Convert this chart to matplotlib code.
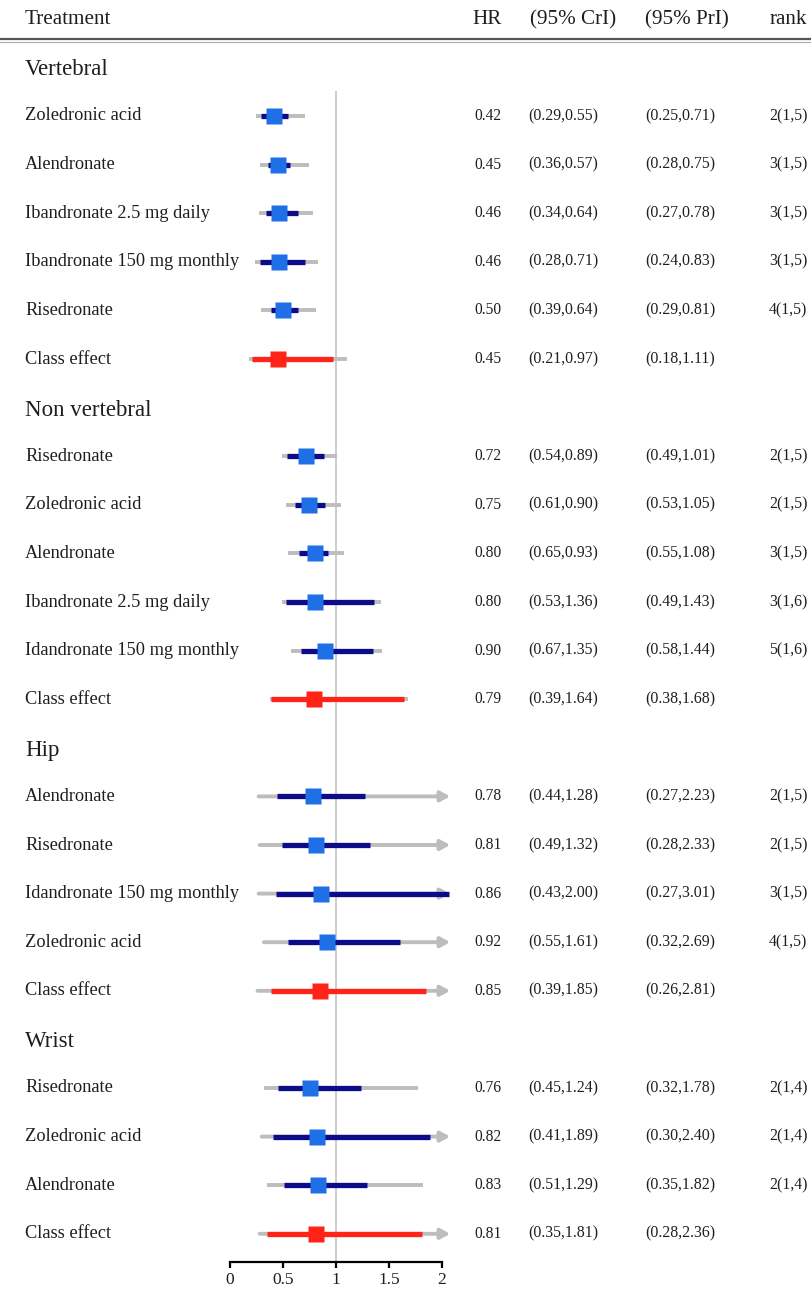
import matplotlib
matplotlib.use("Agg")
import matplotlib.pyplot as plt
from matplotlib.transforms import blended_transform_factory
from matplotlib.lines import Line2D

plt.rcParams['font.family'] = ['Liberation Serif', 'DejaVu Serif']

# ---------------- data ----------------
groups = ["Vertebral", "Non vertebral", "Hip", "Wrist"]

vert_names = ["Zoledronic acid", "Alendronate", "Ibandronate 2.5 mg daily",
              "Ibandronate 150 mg monthly", "Risedronate", "Class effect"]
vert_hr = [0.42, 0.45, 0.46, 0.46, 0.50, 0.45]
vert_crl = [0.29, 0.36, 0.34, 0.28, 0.39, 0.21]
vert_cru = [0.55, 0.57, 0.64, 0.71, 0.64, 0.97]
vert_prl = [0.25, 0.28, 0.27, 0.24, 0.29, 0.18]
vert_pru = [0.71, 0.75, 0.78, 0.83, 0.81, 1.11]
vert_rank = ["2(1,5)", "3(1,5)", "3(1,5)", "3(1,5)", "4(1,5)", ""]

nonv_names = ["Risedronate", "Zoledronic acid", "Alendronate",
              "Ibandronate 2.5 mg daily", "Idandronate 150 mg monthly", "Class effect"]
nonv_hr = [0.72, 0.75, 0.80, 0.80, 0.90, 0.79]
nonv_crl = [0.54, 0.61, 0.65, 0.53, 0.67, 0.39]
nonv_cru = [0.89, 0.90, 0.93, 1.36, 1.35, 1.64]
nonv_prl = [0.49, 0.53, 0.55, 0.49, 0.58, 0.38]
nonv_pru = [1.01, 1.05, 1.08, 1.43, 1.44, 1.68]
nonv_rank = ["2(1,5)", "2(1,5)", "3(1,5)", "3(1,6)", "5(1,6)", ""]

hip_names = ["Alendronate", "Risedronate", "Idandronate 150 mg monthly",
             "Zoledronic acid", "Class effect"]
hip_hr = [0.78, 0.81, 0.86, 0.92, 0.85]
hip_crl = [0.44, 0.49, 0.43, 0.55, 0.39]
hip_cru = [1.28, 1.32, 2.00, 1.61, 1.85]
hip_prl = [0.27, 0.28, 0.27, 0.32, 0.26]
hip_pru = [2.23, 2.33, 3.01, 2.69, 2.81]
hip_rank = ["2(1,5)", "2(1,5)", "3(1,5)", "4(1,5)", ""]

wrist_names = ["Risedronate", "Zoledronic acid", "Alendronate", "Class effect"]
wrist_hr = [0.76, 0.82, 0.83, 0.81]
wrist_crl = [0.45, 0.41, 0.51, 0.35]
wrist_cru = [1.24, 1.89, 1.29, 1.81]
wrist_prl = [0.32, 0.30, 0.35, 0.28]
wrist_pru = [1.78, 2.40, 1.82, 2.36]
wrist_rank = ["2(1,4)", "2(1,4)", "2(1,4)", ""]

col_headers = ["Treatment", "HR", "(95% CrI)", "(95% PrI)", "rank"]
x_ticks = [0, 0.5, 1, 1.5, 2]
x_ticklabels = ["0", "0.5", "1", "1.5", "2"]

blocks = [
    (groups[0], vert_names, vert_hr, vert_crl, vert_cru, vert_prl, vert_pru, vert_rank),
    (groups[1], nonv_names, nonv_hr, nonv_crl, nonv_cru, nonv_prl, nonv_pru, nonv_rank),
    (groups[2], hip_names, hip_hr, hip_crl, hip_cru, hip_prl, hip_pru, hip_rank),
    (groups[3], wrist_names, wrist_hr, wrist_crl, wrist_cru, wrist_prl, wrist_pru, wrist_rank),
]

# ---------------- styling ----------------
W, H = 812, 1290
NAVY = "#0c0c8a"
SQ_BLUE = "#1f6fe6"
RED = "#ff2318"
GRAY = "#bdbdbd"
TXT = "#1e1e1e"
XMAX = 2.0

fig = plt.figure(figsize=(W / 100, H / 100), dpi=100)
fig.patch.set_facecolor("white")

# axis geometry (pixels): x=0 -> 230, x=2 -> 441.7
px0, ppu = 230.0, 105.85
xlo, xhi = -0.2, 2.2
left_px = px0 + xlo * ppu
right_px = px0 + xhi * ppu
bottom_px = 1262
ax = fig.add_axes([left_px / W, (H - bottom_px) / H, (right_px - left_px) / W, bottom_px / H])
r0_px, row_px = 67.4, 48.6
ax.set_xlim(xlo, xhi)
ax.set_ylim((bottom_px - r0_px) / row_px, (0 - r0_px) / row_px)
for s in ["top", "right", "left"]:
    ax.spines[s].set_visible(False)
ax.spines["bottom"].set_bounds(0, 2)
ax.spines["bottom"].set_linewidth(1.6)
ax.set_yticks([])
ax.set_xticks(x_ticks)
ax.set_xticklabels(x_ticklabels, fontsize=12.5, color=TXT)
ax.tick_params(axis="x", direction="out", length=4.5, width=1.6, pad=2.5)
ax.patch.set_alpha(0)

ax.axvline(1, ymin=0, ymax=1 - 92 / bottom_px, color="#cccccc", lw=1.4, zorder=1)

tr = blended_transform_factory(fig.transFigure, ax.transData)

def fx(p):
    return p / W

# header
hy = (20 - r0_px) / row_px
for lbl, xp in zip(col_headers, [25, 472, 530, 645, 770]):
    ax.text(fx(xp), hy, lbl, transform=tr, fontsize=15.2, ha="left", va="center",
            color=TXT, clip_on=False)
fig.add_artist(Line2D([0, 1], [1 - 38.5 / H] * 2, color="#555555", lw=1.6, transform=fig.transFigure))
fig.add_artist(Line2D([0, 1], [1 - 41.5 / H] * 2, color="#aaaaaa", lw=0.8, transform=fig.transFigure))

row = 0
for gname, names, hr, crl, cru, prl, pru, rank in blocks:
    ax.text(fx(25), row + 0.05, gname, transform=tr, fontsize=16.5, ha="left", va="center",
            color=TXT, clip_on=False)
    row += 1
    for i in range(len(names)):
        y = row
        is_class = names[i] == "Class effect"
        # prediction interval (gray)
        if pru[i] > XMAX:
            ax.annotate("", xy=(XMAX + 0.08, y), xytext=(prl[i], y),
                        arrowprops=dict(arrowstyle="-|>,head_length=0.55,head_width=0.3",
                                        color=GRAY, lw=2.8, shrinkA=0, shrinkB=0),
                        zorder=2)
        else:
            ax.plot([prl[i], pru[i]], [y, y], color=GRAY, lw=2.8, solid_capstyle="butt", zorder=2)
        # credible interval
        c = RED if is_class else NAVY
        hi = cru[i] if cru[i] < XMAX else XMAX + 0.07
        ax.plot([crl[i], hi], [y, y], color=c, lw=3.8, solid_capstyle="butt", zorder=3)
        # point estimate
        ax.plot([hr[i]], [y], marker="s", ms=11.5, color=RED if is_class else SQ_BLUE,
                mec="none", zorder=4)
        # texts
        ax.text(fx(25), y, names[i], transform=tr, fontsize=13.2, ha="left", va="center",
                color=TXT, clip_on=False)
        ax.text(fx(474), y, f"{hr[i]:.2f}", transform=tr, fontsize=11.2, ha="left", va="center",
                color=TXT, clip_on=False)
        ax.text(fx(528), y, f"({crl[i]:.2f},{cru[i]:.2f})", transform=tr, fontsize=11.4,
                ha="left", va="center", color=TXT, clip_on=False)
        ax.text(fx(645), y, f"({prl[i]:.2f},{pru[i]:.2f})", transform=tr, fontsize=11.4,
                ha="left", va="center", color=TXT, clip_on=False)
        if rank[i]:
            ax.text(fx(769), y, rank[i], transform=tr, fontsize=11.4, ha="left", va="center",
                    color=TXT, clip_on=False)
        row += 1

fig.savefig("out.png", dpi=100, facecolor="white")
